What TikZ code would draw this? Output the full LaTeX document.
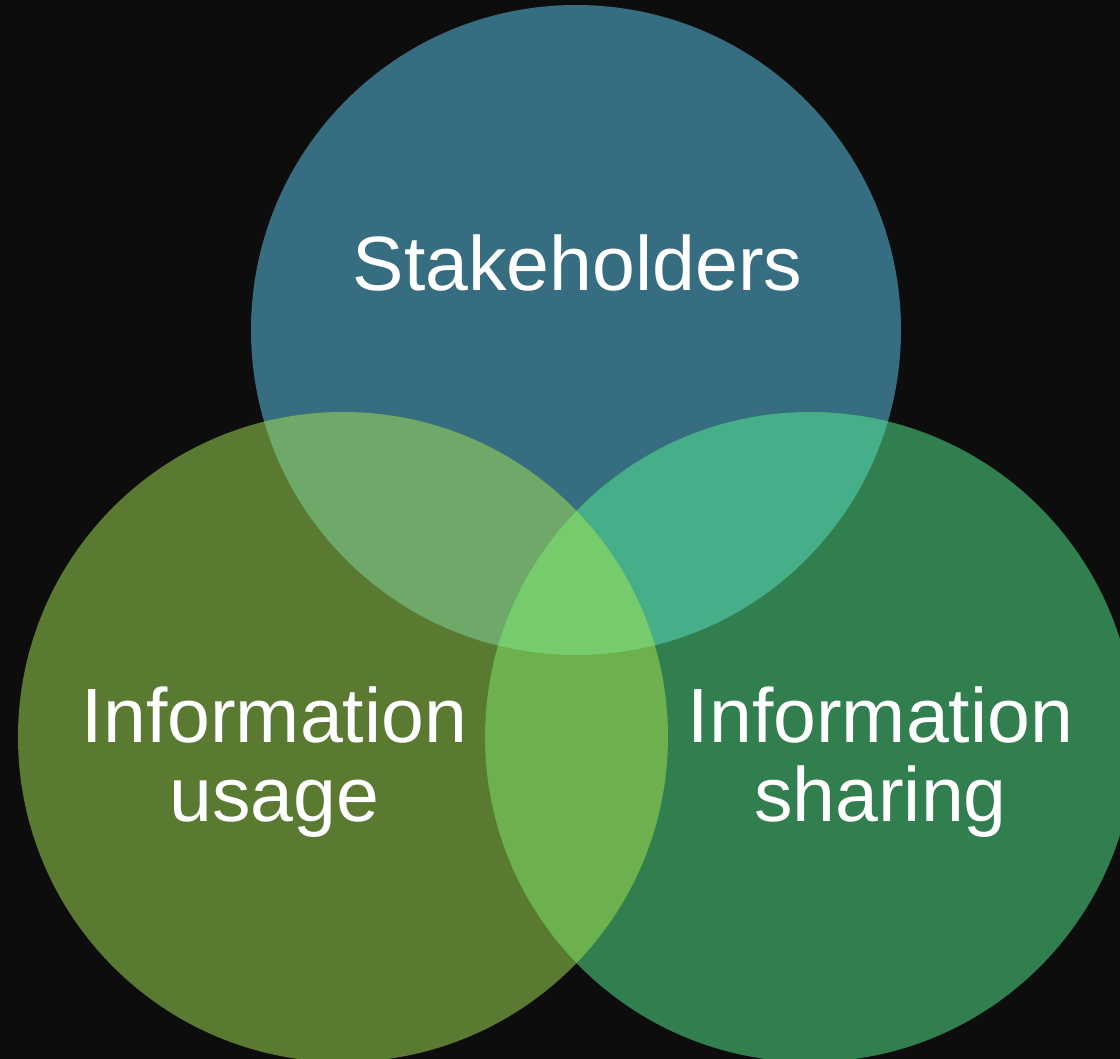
\documentclass[tikz,border=0pt]{standalone}
\usepackage{fontspec}
\setmainfont{Liberation Sans}
\definecolor{bgc}{HTML}{0D0D0D}
\definecolor{ctop}{HTML}{366D80}
\definecolor{cleft}{HTML}{5A7A32}
\definecolor{cright}{HTML}{317E4E}
\definecolor{ctl}{HTML}{6EA96A}
\definecolor{ctr}{HTML}{46AE88}
\definecolor{clr}{HTML}{6DB04E}
\definecolor{cmid}{HTML}{76CB6C}
\begin{document}
\begin{tikzpicture}[x=1pt,y=-1pt,
  disc/.style={circle,minimum size=650pt,inner sep=0pt,draw=none},
  lbl/.style={text=white,align=center,font=\fontsize{77}{79}\selectfont,inner sep=0pt}]
\fill[bgc] (0,0) rectangle (1120,1059);
\useasboundingbox (0,0) rectangle (1120,1059);
\node[disc,fill=ctop] (top) at (576,330) {};
\node[disc,fill=cleft] (left) at (343,737) {};
\node[disc,fill=cright] (right) at (810,737) {};
% pairwise overlaps
\begin{scope}
  \clip (576,330) circle (325);
  \fill[ctl] (343,737) circle (325);
\end{scope}
\begin{scope}
  \clip (576,330) circle (325);
  \fill[ctr] (810,737) circle (325);
\end{scope}
\begin{scope}
  \clip (343,737) circle (325);
  \fill[clr] (810,737) circle (325);
\end{scope}
\begin{scope}
  \clip (576,330) circle (325);
  \clip (343,737) circle (325);
  \fill[cmid] (810,737) circle (325);
\end{scope}
\node[lbl,anchor=base] (t1) at (577.5,291) {Stakeholders};
\node[lbl,anchor=center] (t2) at (274.5,762) {Information\\usage};
\node[lbl,anchor=center] (t3) at (880.5,762) {Information\\sharing};
\end{tikzpicture}
\end{document}
